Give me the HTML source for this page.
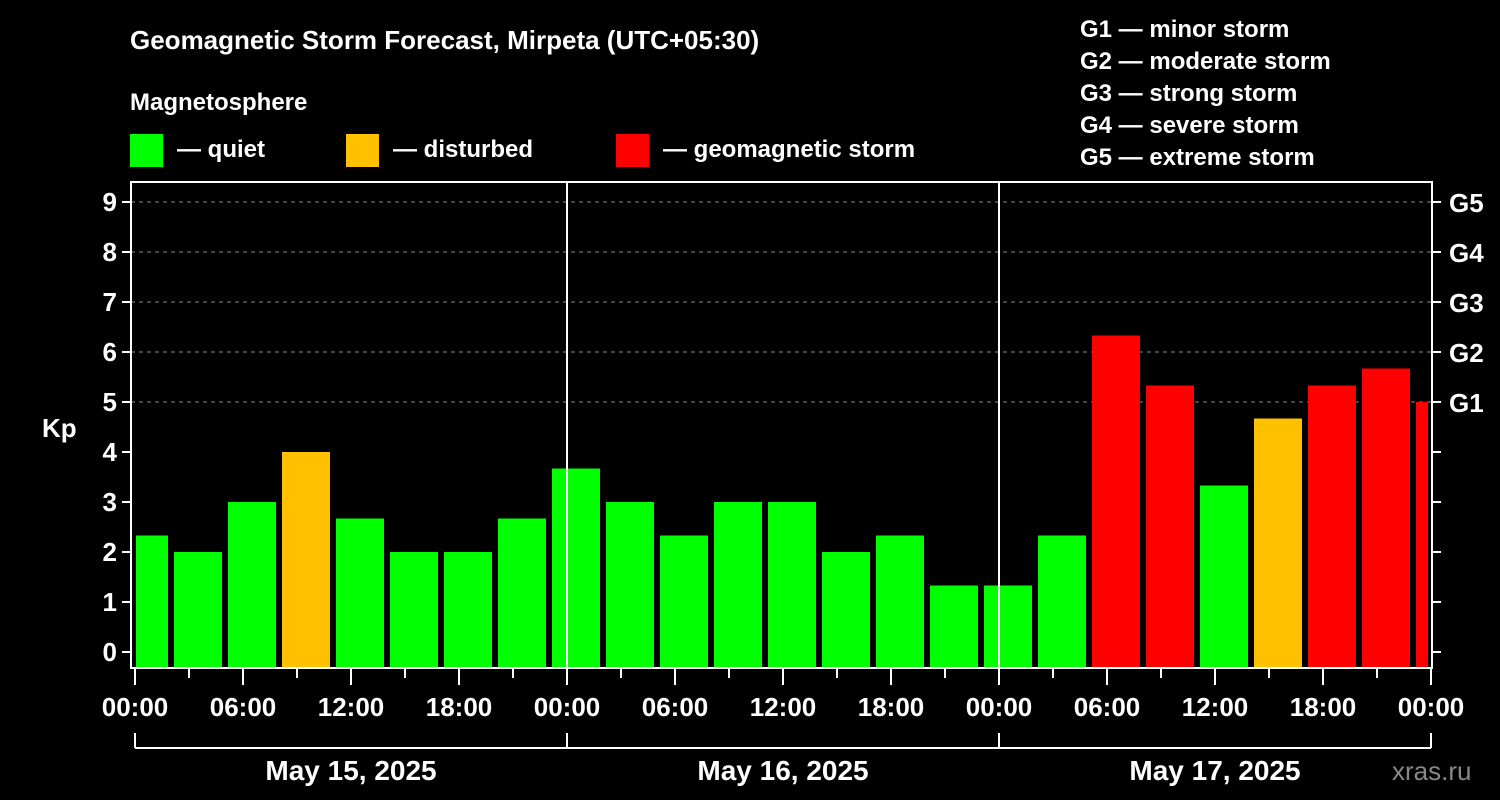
<!DOCTYPE html>
<html><head><meta charset="utf-8"><style>
html,body{margin:0;padding:0;background:#000;}
svg{display:block;font-family:"Liberation Sans",Arial,sans-serif;font-weight:bold;}
</style></head><body>
<svg id="chart" width="1500" height="800" viewBox="0 0 1500 800">
<rect x="0" y="0" width="1500" height="800" fill="#000"/>
<text x="130" y="49" fill="#fff" font-size="26">Geomagnetic Storm Forecast, Mirpeta (UTC+05:30)</text>
<text x="130" y="110" fill="#fff" font-size="24">Magnetosphere</text>
<g><rect x="130" y="134" width="33" height="33" fill="#00ff00"/><text x="177" y="157" fill="#fff" font-size="24">— quiet</text></g>
<g><rect x="346" y="134" width="33" height="33" fill="#ffc000"/><text x="393" y="157" fill="#fff" font-size="24">— disturbed</text></g>
<g><rect x="616" y="134" width="33" height="33" fill="#ff0000"/><text x="663" y="157" fill="#fff" font-size="24">— geomagnetic storm</text></g>
<g fill="#fff" font-size="24">
<text x="1080" y="37">G1 — minor storm</text>
<text x="1080" y="69">G2 — moderate storm</text>
<text x="1080" y="101">G3 — strong storm</text>
<text x="1080" y="133">G4 — severe storm</text>
<text x="1080" y="165">G5 — extreme storm</text>
</g>
<text x="42" y="437" fill="#fff" font-size="26">Kp</text>
<g id="grid"></g><g id="bars"></g><g id="axes"></g>
<text x="1392" y="780" fill="#888" font-size="26" font-weight="normal">xras.ru</text>
</svg>
<script>
const kpValues=[2.33,2,3,4,2.67,2,2,2.67,3.67,3,2.33,3,3,2,2.33,1.33,1.33,2.33,6.33,5.33,3.33,4.67,5.33,5.67,5];
const yTicks=[0,1,2,3,4,5,6,7,8,9];
const gLabels=["G1","G2","G3","G4","G5"];
const xTickLabels=["00:00","06:00","12:00","18:00","00:00","06:00","12:00","18:00","00:00","06:00","12:00","18:00","00:00"];
const dayLabels=["May 15, 2025","May 16, 2025","May 17, 2025"];
const NS="http://www.w3.org/2000/svg";
const L=131,R=1432,T=182,B=668;
const y=v=>652-50*v;
const x=h=>135+18*h; // hours from May 15 00:00 local
function mk(tag,attrs,parent,txt){const e=document.createElementNS(NS,tag);for(const k in attrs)e.setAttribute(k,attrs[k]);if(txt!=null)e.textContent=txt;parent.appendChild(e);return e;}
const grid=document.getElementById('grid'),bars=document.getElementById('bars'),axes=document.getElementById('axes');
[5,6,7,8,9].forEach(v=>{const l=mk('line',{x1:L,x2:R,y1:y(v),y2:y(v),stroke:'#888','stroke-dasharray':'4,4','stroke-width':1},grid);

});
const col=v=>v>=5?'#ff0000':(v>=4?'#ffc000':'#00ff00');
kpValues.forEach((v,i)=>{
 let x0,x1;
 if(i===0){x0=x(0)+1;x1=x(0)+33;}
 else{const s=174+54*(i-1);x0=s;x1=Math.min(s+48,R-4);}
 const r=mk('rect',{x:x0,y:y(v),width:x1-x0,height:B-y(v),fill:col(v)},bars);
 
 
});
mk('rect',{x:L,y:T,width:R-L,height:B-T,fill:'none',stroke:'#fff','stroke-width':2},axes);
[1,2].forEach(d=>{const l=mk('line',{x1:x(24*d),x2:x(24*d),y1:T,y2:B,stroke:'#fff','stroke-width':2},axes);

});
yTicks.forEach(v=>{
 mk('line',{x1:L-9,x2:L,y1:y(v),y2:y(v),stroke:'#fff','stroke-width':2},axes);
 mk('line',{x1:R,x2:R+9,y1:y(v),y2:y(v),stroke:'#fff','stroke-width':2},axes);
 const t=mk('text',{x:L-14,y:y(v)+9,fill:'#fff','font-size':26,'text-anchor':'end'},axes,String(v));
 
 
});
gLabels.forEach((g,i)=>{const t=mk('text',{x:R+17,y:y(5+i)+10,fill:'#fff','font-size':26},axes,g);

});
for(let h=0;h<=72;h+=3){const long=h%6===0;mk('line',{x1:x(h),x2:x(h),y1:B,y2:B+(long?17:10),stroke:'#fff','stroke-width':2},axes);}
xTickLabels.forEach((s,i)=>{const t=mk('text',{x:x(6*i),y:716,fill:'#fff','font-size':26,'text-anchor':'middle'},axes,s);

});
mk('line',{x1:x(0),x2:x(72),y1:748,y2:748,stroke:'#fff','stroke-width':2},axes);
[0,1,2,3].forEach(d=>mk('line',{x1:x(24*d),x2:x(24*d),y1:733,y2:748,stroke:'#fff','stroke-width':2},axes));
dayLabels.forEach((s,i)=>{const t=mk('text',{x:x(24*i+12),y:780,fill:'#fff','font-size':28,'text-anchor':'middle'},axes,s);

});
</script>
</body></html>
